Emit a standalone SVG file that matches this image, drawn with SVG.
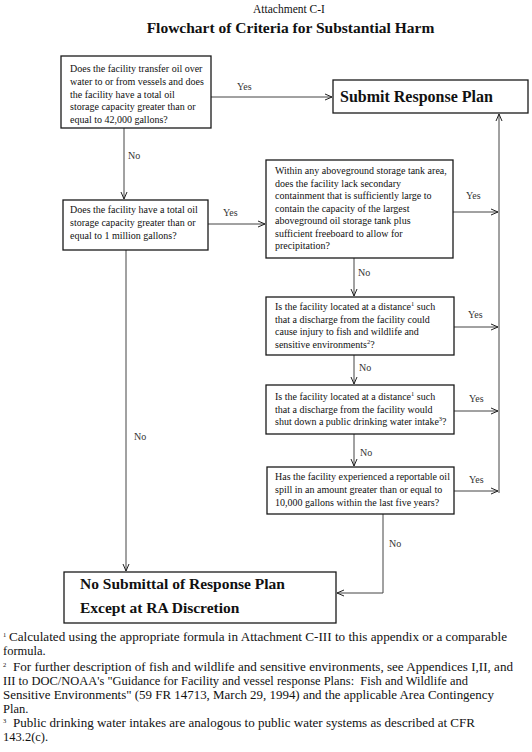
<svg xmlns="http://www.w3.org/2000/svg" width="532" height="752" viewBox="0 0 532 752">
<defs>
<marker id="ah" viewBox="0 0 8 8" refX="7" refY="4" markerWidth="8" markerHeight="8" markerUnits="userSpaceOnUse" orient="auto">
<path d="M0,1 L7,4 L0,7" fill="none" stroke="#222" stroke-width="1"/>
</marker>
<style>
.t{font-family:"Liberation Serif","Times New Roman",serif;fill:#111}
.bx{fill:#fff;stroke:#1a1a1a;stroke-width:1.3}
.q{font-size:10px}
.lb{font-size:10px;fill:#333}
.big{font-size:16px;font-weight:bold}
.fn{font-size:12.5px}
.sup{font-size:6.5px}
.c{fill:none;stroke:#444;stroke-width:1}
</style>
</defs>
<rect width="532" height="752" fill="#fff"/>
<text class="t" x="289" y="13" text-anchor="middle" font-size="11.5">Attachment C-I</text>
<text class="t" x="290.5" y="33" text-anchor="middle" font-size="15.5" font-weight="bold">Flowchart of Criteria for Substantial Harm</text>

<g id="connectors">
<line class="c" x1="211" y1="97" x2="332" y2="97" marker-end="url(#ah)"/>
<line class="c" x1="124" y1="128" x2="124" y2="199" marker-end="url(#ah)"/>
<line class="c" x1="208" y1="224" x2="265" y2="224" marker-end="url(#ah)"/>
<line class="c" x1="126" y1="250" x2="126" y2="571" marker-end="url(#ah)"/>
<line class="c" x1="354" y1="258" x2="354" y2="296" marker-end="url(#ah)"/>
<line class="c" x1="354" y1="355" x2="354" y2="384" marker-end="url(#ah)"/>
<line class="c" x1="354" y1="434" x2="354" y2="466" marker-end="url(#ah)"/>
<polyline class="c" points="383,514 383,593 337,593" marker-end="url(#ah)"/>
<line class="c" x1="453" y1="212" x2="498" y2="212" marker-end="url(#ah)"/>
<line class="c" x1="454" y1="327" x2="498" y2="327" marker-end="url(#ah)"/>
<line class="c" x1="454" y1="411" x2="498" y2="411" marker-end="url(#ah)"/>
<line class="c" x1="454" y1="491" x2="498" y2="491" marker-end="url(#ah)"/>
<line class="c" x1="499" y1="493" x2="499" y2="114" marker-end="url(#ah)"/>
<text class="t lb" x="237" y="90">Yes</text>
<text class="t lb" x="128" y="159">No</text>
<text class="t lb" x="223" y="216">Yes</text>
<text class="t lb" x="134" y="440">No</text>
<text class="t lb" x="358" y="276">No</text>
<text class="t lb" x="359" y="371">No</text>
<text class="t lb" x="360" y="456">No</text>
<text class="t lb" x="389" y="547">No</text>
<text class="t lb" x="466" y="199">Yes</text>
<text class="t lb" x="468" y="318">Yes</text>
<text class="t lb" x="469" y="402">Yes</text>
<text class="t lb" x="469" y="483">Yes</text>
</g>

<g id="q1">
<rect class="bx" x="61" y="56" width="150" height="72"/>
<text class="t q" x="70" y="72">Does the facility transfer oil over</text>
<text class="t q" x="70" y="85">water to or from vessels and does</text>
<text class="t q" x="70" y="98">the facility have a total oil</text>
<text class="t q" x="70" y="110">storage capacity greater than or</text>
<text class="t q" x="70" y="123">equal to 42,000 gallons?</text>
</g>

<g id="submit">
<rect class="bx" x="333" y="80" width="195" height="33"/>
<text class="t big" x="340" y="102">Submit Response Plan</text>
</g>

<g id="q2">
<rect class="bx" x="63" y="200" width="145" height="50"/>
<text class="t q" x="70" y="213">Does the facility have a total oil</text>
<text class="t q" x="70" y="226">storage capacity greater than or</text>
<text class="t q" x="70" y="239">equal to 1 million gallons?</text>
</g>

<g id="q3">
<rect class="bx" x="266" y="160" width="187" height="98"/>
<text class="t q" x="275" y="174">Within any aboveground storage tank area,</text>
<text class="t q" x="275" y="186.5">does the facility lack secondary</text>
<text class="t q" x="275" y="199">containment that is sufficiently large to</text>
<text class="t q" x="275" y="211.5">contain the capacity of the largest</text>
<text class="t q" x="275" y="224">aboveground oil storage tank plus</text>
<text class="t q" x="275" y="236.5">sufficient freeboard to allow for</text>
<text class="t q" x="275" y="249">precipitation?</text>
</g>

<g id="q4">
<rect class="bx" x="266" y="297" width="188" height="58"/>
<text class="t q" x="275" y="310">Is the facility located at a distance<tspan class="sup" dy="-4">1</tspan><tspan dy="4"> such</tspan></text>
<text class="t q" x="275" y="323">that a discharge from the facility could</text>
<text class="t q" x="275" y="335">cause injury to fish and wildlife and</text>
<text class="t q" x="275" y="348">sensitive environments<tspan class="sup" dy="-4">2</tspan><tspan dy="4">?</tspan></text>
</g>

<g id="q5">
<rect class="bx" x="266" y="385" width="188" height="49"/>
<text class="t q" x="275" y="400">Is the facility located at a distance<tspan class="sup" dy="-4">1</tspan><tspan dy="4"> such</tspan></text>
<text class="t q" x="275" y="413">that a discharge from the facility would</text>
<text class="t q" x="275" y="425">shut down a public drinking water intake<tspan class="sup" dy="-4">3</tspan><tspan dy="4">?</tspan></text>
</g>

<g id="q6">
<rect class="bx" x="267" y="467" width="187" height="47"/>
<text class="t q" x="275" y="480">Has the facility experienced a reportable oil</text>
<text class="t q" x="275" y="493">spill in an amount greater than or equal to</text>
<text class="t q" x="275" y="506">10,000 gallons within the last five years?</text>
</g>

<g id="nosubmit">
<rect class="bx" x="64" y="572" width="272" height="51"/>
<text class="t" x="80" y="589" font-size="15.5" font-weight="bold">No Submittal of Response Plan</text>
<text class="t" x="80" y="613" font-size="15.5" font-weight="bold">Except at RA Discretion</text>
</g>

<g id="footnotes">
<text class="t sup" x="3" y="637">1</text>
<text class="t fn" x="9" y="641" textLength="498" lengthAdjust="spacingAndGlyphs">Calculated using the appropriate formula in Attachment C-III to this appendix or a comparable</text>
<text class="t fn" x="3" y="655">formula.</text>
<text class="t sup" x="3" y="667">2</text>
<text class="t fn" x="13" y="671" textLength="500" lengthAdjust="spacingAndGlyphs">For further description of fish and wildlife and sensitive environments, see Appendices I,II, and</text>
<text class="t fn" x="3" y="685" textLength="465" lengthAdjust="spacingAndGlyphs" xml:space="preserve">III to DOC/NOAA's "Guidance for Facility and vessel response Plans:  Fish and Wildlife and</text>
<text class="t fn" x="3" y="699" textLength="491" lengthAdjust="spacingAndGlyphs">Sensitive Environments" (59 FR 14713, March 29, 1994) and the applicable Area Contingency</text>
<text class="t fn" x="3" y="713">Plan.</text>
<text class="t sup" x="3" y="723">3</text>
<text class="t fn" x="13" y="727" textLength="462" lengthAdjust="spacingAndGlyphs">Public drinking water intakes are analogous to public water systems as described at CFR</text>
<text class="t fn" x="3" y="741">143.2(c).</text>
</g>
</svg>
